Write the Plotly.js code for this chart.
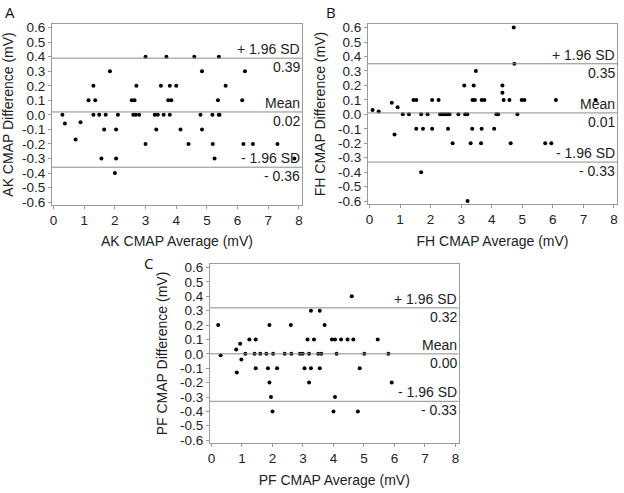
<!DOCTYPE html>
<html>
<head>
<meta charset="utf-8">
<script src="https://cdn.plot.ly/plotly-3.0.1.min.js"></script>
<style>
  html, body { margin: 0; padding: 0; background: #fff; }
  #chart { width: 624px; height: 493px; }
</style>
</head>
<body>
<div id="chart"></div>
<script>
// Bland-Altman data
const akAvg = [0.29, 0.37, 0.72, 0.88, 1.14, 1.30, 1.30, 1.36, 1.49, 1.56, 1.65, 1.70, 1.84, 2.00, 2.04, 2.04, 2.10,
  2.55, 2.64, 2.60, 2.68, 2.79, 2.70, 3.00, 3.00, 3.30, 3.40, 3.35, 3.50, 3.59, 3.68, 3.74, 3.84, 3.79, 3.79,
  4.00, 4.14, 4.40, 4.59, 4.79, 4.84, 4.84, 5.18, 5.19, 5.25, 5.36, 5.39, 5.39, 5.41, 5.61, 6.15, 6.24, 6.19,
  6.50, 7.30, 7.85];
const akDiff = [0.0, -0.06, -0.17, -0.05, 0.1, 0.2, 0.0, 0.1, 0.0, -0.3, -0.1, 0.0, 0.3, -0.4, -0.1, -0.3, 0.0,
  0.1, 0.1, 0.0, 0.0, 0.0, 0.2, 0.4, -0.2, 0.0, 0.0, -0.1, 0.2, 0.0, 0.4, 0.1, 0.1, 0.2, 0.0,
  0.2, -0.1, -0.2, 0.4, 0.0, 0.3, -0.1, 0.0, -0.2, -0.3, 0.1, 0.4, 0.0, 0.0, 0.2, 0.1, 0.3, -0.2,
  -0.2, -0.2, -0.3];

const fhAvg = [0.10, 0.30, 0.73, 0.82, 0.92, 1.09, 1.29, 1.44, 1.53, 1.53, 1.69, 1.69, 1.75, 1.90, 2.05, 2.05,
  2.26, 2.31, 2.39, 2.47, 2.55, 2.62, 2.57, 2.72, 2.91, 3.10, 3.13, 3.20, 3.21, 3.31, 3.36, 3.37, 3.45, 3.41,
  3.48, 3.65, 3.67, 3.67, 3.76, 4.08, 4.15, 4.21, 4.35, 4.35, 4.39, 4.58, 4.62, 4.72, 4.74, 4.84, 4.98, 5.07,
  5.75, 5.95, 6.10, 7.40];
const fhDiff = [0.03, 0.02, 0.08, -0.14, 0.05, 0.0, 0.0, 0.1, 0.1, -0.1, 0.0, -0.4, -0.1, 0.0, 0.1, -0.1,
  0.1, 0.0, 0.0, 0.0, 0.0, 0.0, -0.1, -0.2, 0.0, 0.2, 0.0, 0.0, -0.6, -0.2, -0.1, 0.1, 0.1, 0.2,
  0.3, -0.2, -0.1, 0.1, 0.1, -0.1, 0.0, 0.0, 0.2, 0.15, 0.1, 0.1, -0.2, 0.6, 0.35, 0.0, 0.1, 0.1,
  -0.2, -0.2, 0.1, 0.1];

const pfAvg = [0.22, 0.30, 0.81, 0.83, 0.94, 0.98, 1.11, 1.24, 1.41, 1.45, 1.45, 1.60, 1.80, 1.85, 1.90, 1.90,
  1.95, 2.00, 2.02, 2.15, 2.40, 2.60, 2.62, 2.90, 2.99, 3.05, 3.15, 3.20, 3.20, 3.26, 3.26, 3.36, 3.50, 3.60,
  3.55, 3.55, 3.71, 3.95, 4.05, 4.00, 4.05, 4.10, 4.25, 4.46, 4.60, 4.65, 4.80, 4.86, 5.01, 5.45, 5.80, 5.91];
const pfDiff = [0.2, -0.01, 0.03, -0.13, 0.07, -0.04, 0.0, 0.1, 0.0, 0.1, -0.1, 0.0, 0.0, -0.1, 0.2, -0.2,
  -0.3, -0.4, 0.0, -0.1, 0.0, 0.2, 0.0, 0.0, 0.0, -0.1, 0.1, 0.0, -0.2, 0.3, -0.1, 0.1, 0.0, 0.0,
  0.3, -0.1, 0.2, 0.1, 0.1, -0.4, -0.3, 0.0, 0.1, 0.1, 0.4, 0.1, -0.4, -0.1, 0.0, 0.1, 0.0, -0.2];

// upper limit, mean, lower limit
const akLimits = [0.39, 0.02, -0.36];
const fhLimits = [0.35, 0.01, -0.33];
const pfLimits = [0.32, 0.00, -0.33];

const limitNames = ['+ 1.96 SD', 'Mean', '- 1.96 SD'];
const xTicks = [0, 1, 2, 3, 4, 5, 6, 7, 8];
const yTicks = [0.6, 0.5, 0.4, 0.3, 0.2, 0.1, 0.0, -0.1, -0.2, -0.3, -0.4, -0.5, -0.6];
const yTickText = ['0.6', '0.5', '0.4', '0.3', '0.2', '0.1', '0.0', '-0.1', '-0.2', '-0.3', '-0.4', '-0.5', '-0.6'];

const panels = [
  { name: 'AK', letter: 'A', x: akAvg, y: akDiff, limits: akLimits, ax: '', dx: [0.0833, 0.484], dy: [0.5842, 0.9513], lx: 0.016, ly: 0.9757 },
  { name: 'FH', letter: 'B', x: fhAvg, y: fhDiff, limits: fhLimits, ax: '2', dx: [0.5897, 0.9888], dy: [0.5862, 0.9513], lx: 0.5304, ly: 0.9757 },
  { name: 'PF', letter: 'C', x: pfAvg, y: pfDiff, limits: pfLimits, ax: '3', dx: [0.3365, 0.7348], dy: [0.1014, 0.4645], lx: 0.2372, ly: 0.4665 }
];

const font = 'Liberation Sans, Arial, sans-serif';
const frame = '#9a9a9a';

function fmtLimit (v) {
  return v < 0 ? '- ' + Math.abs(v).toFixed(2) : v.toFixed(2);
}

const data = [];
const shapes = [];
const annotations = [];
const layout = {
  width: 624,
  height: 493,
  margin: { l: 0, r: 0, t: 0, b: 0 },
  paper_bgcolor: '#fff',
  plot_bgcolor: '#fff',
  showlegend: false,
  font: { family: font, size: 14, color: '#222' }
};

panels.forEach((p) => {
  const xa = 'x' + p.ax;
  const ya = 'y' + p.ax;

  data.push({
    type: 'scatter',
    mode: 'markers',
    x: p.x,
    y: p.y,
    xaxis: xa,
    yaxis: ya,
    marker: { size: 4, color: '#000' },
    hoverinfo: 'x+y'
  });

  layout['xaxis' + p.ax] = {
    domain: p.dx,
    anchor: ya,
    range: [-0.05, 8.1],
    tickvals: xTicks,
    ticks: 'outside',
    ticklen: 3,
    tickcolor: frame,
    showgrid: false,
    zeroline: false,
    showline: true,
    mirror: true,
    linecolor: frame,
    linewidth: 1,
    tickfont: { family: font, size: 13.5, color: '#222' },
    title: { text: p.name + ' CMAP Average (mV)', font: { family: font, size: 14, color: '#222' }, standoff: 9 }
  };
  layout['yaxis' + p.ax] = {
    domain: p.dy,
    anchor: xa,
    range: [-0.62, 0.625],
    tickvals: yTicks,
    ticktext: yTickText,
    ticks: 'outside',
    ticklen: 3,
    tickcolor: frame,
    showgrid: false,
    zeroline: false,
    showline: true,
    mirror: true,
    linecolor: frame,
    linewidth: 1,
    tickfont: { family: font, size: 13.5, color: '#222' },
    title: { text: p.name + ' CMAP Difference (mV)', font: { family: font, size: 14, color: '#222' }, standoff: 9 }
  };

  p.limits.forEach((v, i) => {
    shapes.push({
      type: 'line',
      xref: xa + ' domain',
      yref: ya,
      x0: 0,
      x1: 1,
      y0: v,
      y1: v,
      line: { color: '#8c8c8c', width: 1 }
    });
    annotations.push({
      xref: xa + ' domain', yref: ya, x: 1, y: v,
      xanchor: 'right', yanchor: 'bottom', xshift: -1,
      text: limitNames[i], showarrow: false, borderpad: 0,
      font: { family: font, size: 14, color: '#222' }
    });
    annotations.push({
      xref: xa + ' domain', yref: ya, x: 1, y: v,
      xanchor: 'right', yanchor: 'top', xshift: -1,
      text: fmtLimit(v), showarrow: false, borderpad: 0,
      font: { family: font, size: 14, color: '#222' }
    });
  });

  annotations.push({
    xref: 'paper', yref: 'paper', x: p.lx, y: p.ly,
    xanchor: 'center', yanchor: 'middle',
    text: p.letter, showarrow: false,
    font: { family: 'Open Sans, sans-serif', size: 15, color: '#111' }
  });
});

layout.shapes = shapes;
layout.annotations = annotations;

Plotly.newPlot('chart', data, layout, { displayModeBar: false, staticPlot: true });
</script>
</body>
</html>
